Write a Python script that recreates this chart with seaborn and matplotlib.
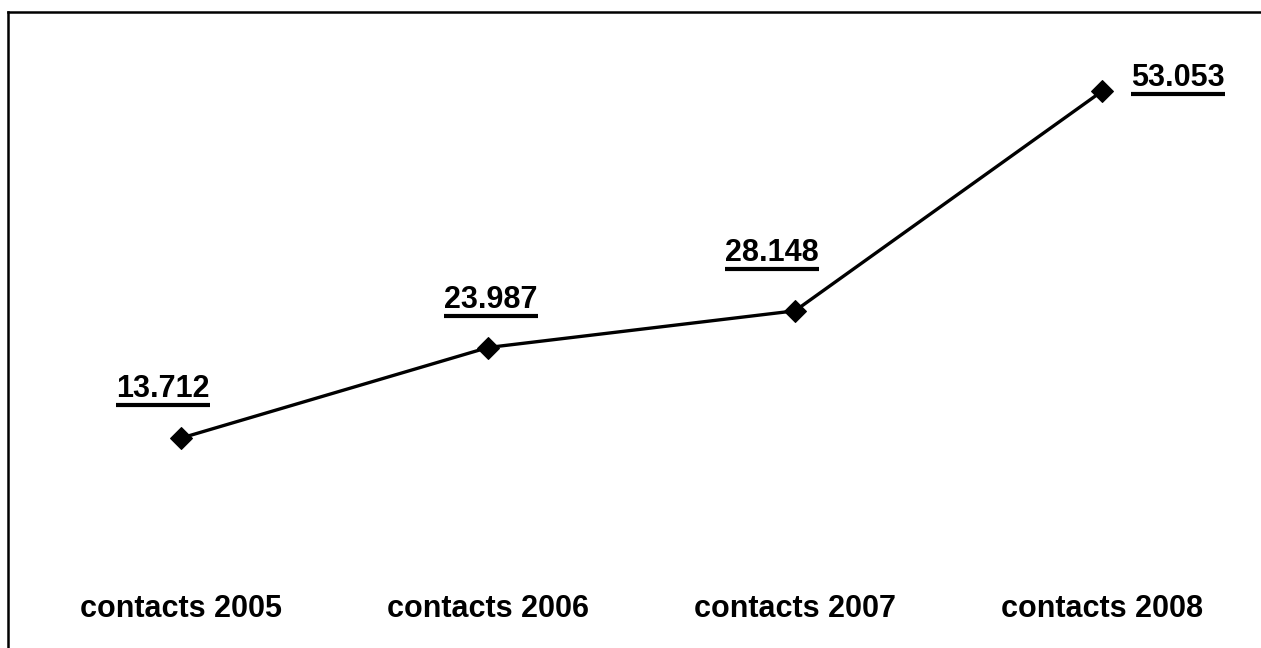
import matplotlib
matplotlib.use("Agg")
import matplotlib.pyplot as plt
from matplotlib.lines import Line2D
import seaborn as sns
import pandas as pd

# Yearly contact counts
categories = ["contacts 2005", "contacts 2006", "contacts 2007", "contacts 2008"]
values = [13.712, 23.987, 28.148, 53.053]
value_labels = ["13.712", "23.987", "28.148", "53.053"]
# label offsets from each point, in pixels (dx, dy)
label_offsets = [(-18, 41), (3, 40), (-23, 50), (76, 5)]

sns.set_theme(style="white")
plt.rcParams["font.family"] = ["Liberation Sans", "DejaVu Sans"]
plt.rcParams["font.weight"] = "bold"

W, H, DPI = 1261, 648, 100
fig = plt.figure(figsize=(W / DPI, H / DPI), dpi=DPI, facecolor="white")
ax = fig.add_axes([27.5 / W, 1 - 559 / H, 1228 / W, 529 / H])
ax.set_facecolor("white")

df = pd.DataFrame({"category": categories, "value": values})
sns.lineplot(data=df, x="category", y="value", ax=ax, color="black",
             linewidth=2.4, marker="D", markersize=11,
             markeredgecolor="black", markerfacecolor="black")

ax.set_xlim(-0.5, len(categories) - 0.5)
ax.set_ylim(0, 60)
ax.set_xlabel("")
ax.set_ylabel("")
ax.set_yticks([])
ax.set_xticks(range(len(categories)))
ax.set_xticklabels(categories, fontsize=22, fontweight="bold")
ax.tick_params(axis="x", length=0, pad=25, colors="black")
for s in ax.spines.values():
    s.set_visible(False)

texts = []
for i, (v, lab, (dx, dy)) in enumerate(zip(values, value_labels, label_offsets)):
    t = ax.annotate(lab, xy=(i, v), xytext=(dx, dy), textcoords="offset pixels",
                    ha="center", va="baseline", fontsize=22, fontweight="bold",
                    color="black")
    texts.append(t)

# underline the value labels
fig.canvas.draw()
renderer = fig.canvas.get_renderer()
inv = fig.transFigure.inverted()
for t in texts:
    bb = t.get_window_extent(renderer)
    # text boxes reserve the descent of "lp" below the baseline
    _, _, descent = renderer.get_text_width_height_descent(
        "lp", t.get_fontproperties(), ismath=False)
    base = bb.y0 + descent
    yline = base - 8
    p0 = inv.transform((bb.x0, yline))
    p1 = inv.transform((bb.x1, yline))
    fig.add_artist(Line2D([p0[0], p1[0]], [p0[1], p1[1]], color="black",
                          linewidth=3.0, solid_capstyle="butt"))

# frame lines along the top and left edges
fig.add_artist(Line2D([8 / W, 1.0], [1 - 12 / H, 1 - 12 / H], color="black",
                      linewidth=1.8, solid_capstyle="projecting"))
fig.add_artist(Line2D([8 / W, 8 / W], [0, 1 - 12 / H], color="black",
                      linewidth=1.8, solid_capstyle="projecting"))

fig.savefig("out.png", dpi=DPI, facecolor="white")
